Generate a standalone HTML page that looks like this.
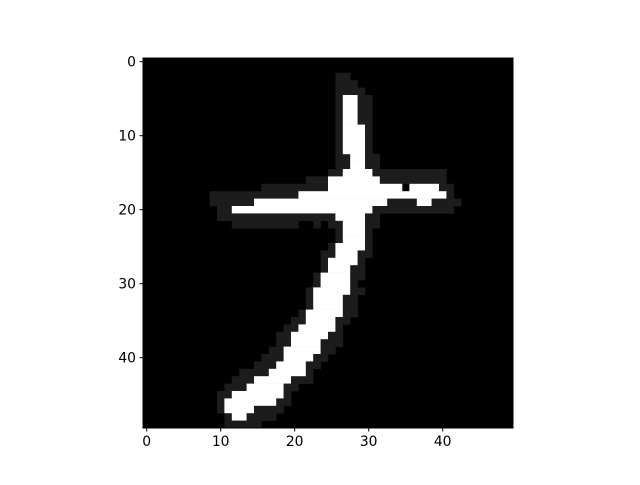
<!DOCTYPE html>
<html><head><meta charset="utf-8"><style>
body{margin:0;background:#fff;}
svg text{font-family:"DejaVu Sans","Liberation Sans",sans-serif;font-size:13.9px;fill:#000;}
</style></head><body>
<svg id="chart" width="640" height="480" xmlns="http://www.w3.org/2000/svg">
<rect x="143" y="58" width="370" height="370" fill="#000"/>
<g id="cells"></g>
<rect x="143" y="58" width="370" height="370" fill="none" stroke="#000" stroke-width="1"/>
<g id="xticks"></g>
<g id="yticks"></g>
</svg>
<script>
const gridSize = 50;
const xTickValues = [0,10,20,30,40];
const yTickValues = [0,10,20,30,40];
const G = 0.11;
// spans: [row, colStart, colEnd(inclusive), intensity]
const spans = [
[2,26,27,G],[3,26,28,G],[4,26,29,G],
[5,26,26,G],[5,27,28,1],[5,29,30,G],
[6,26,26,G],[6,27,28,1],[6,29,30,G],
[7,26,26,G],[7,27,28,1],[7,29,30,G],
[8,26,26,G],[8,27,28,1],[8,29,30,G],
[9,26,26,G],[9,27,29,1],[9,30,30,G],
[10,26,26,G],[10,27,29,1],[10,30,30,G],
[11,26,26,G],[11,27,29,1],[11,30,30,G],
[12,26,26,G],[12,27,29,1],[12,30,30,G],
[13,26,27,G],[13,28,29,1],[13,30,31,G],
[14,26,27,G],[14,28,29,1],[14,30,31,G],
[15,25,26,G],[15,27,30,1],[15,31,40,G],
[16,22,24,G],[16,25,31,1],[16,32,40,G],
[17,16,24,G],[17,25,34,1],[17,36,39,1],[17,40,41,G],
[18,9,20,G],[18,21,40,1],[18,41,41,G],
[19,9,14,G],[19,15,32,1],[19,33,36,G],[19,37,38,1],[19,39,42,G],
[20,10,11,G],[20,12,30,1],[20,31,41,G],
[21,10,25,G],[21,26,29,1],[21,30,31,G],
[22,12,20,G],[22,23,23,G],[22,25,26,G],[22,27,29,1],[22,30,31,G],
[23,26,26,G],[23,27,29,1],[23,30,30,G],
[24,26,26,G],[24,27,29,1],[24,30,30,G],
[25,25,25,G],[25,26,29,1],[25,30,30,G],
[26,24,25,G],[26,26,28,1],[26,29,30,G],
[27,24,24,G],[27,25,28,1],[27,29,29,G],
[28,24,24,G],[28,25,27,1],[28,28,29,G],
[29,23,23,G],[29,24,27,1],[29,28,29,G],
[30,23,23,G],[30,24,27,1],[30,28,28,G],
[31,22,22,G],[31,23,27,1],[31,28,29,G],
[32,22,22,G],[32,23,26,1],[32,27,28,G],
[33,22,22,G],[33,23,26,1],[33,27,28,G],
[34,21,21,G],[34,22,26,1],[34,27,28,G],
[35,20,21,G],[35,22,25,1],[35,26,27,G],
[36,19,20,G],[36,21,25,1],[36,26,26,G],
[37,18,19,G],[37,20,24,1],[37,25,26,G],
[38,18,19,G],[38,20,23,1],[38,24,26,G],
[39,17,18,G],[39,19,23,1],[39,24,25,G],
[40,16,18,G],[40,19,22,1],[40,23,24,G],
[41,15,17,G],[41,18,21,1],[41,22,23,G],
[42,13,16,G],[42,17,21,1],[42,22,22,G],
[43,12,14,G],[43,15,19,1],[43,20,22,G],
[44,11,13,G],[44,14,18,1],[44,19,20,G],
[45,10,11,G],[45,12,18,1],[45,19,19,G],
[46,10,10,G],[46,11,17,1],[46,18,19,G],
[47,10,10,G],[47,11,14,1],[47,15,18,G],
[48,11,11,G],[48,12,13,1],[48,14,17,G],
[49,11,15,G]
];
const x0=143,y0=58,size=370,cell=size/gridSize;
const xs=c=>x0+c*cell, ys=r=>y0+r*cell;
const NS="http://www.w3.org/2000/svg";
const cg=document.getElementById('cells');
spans.forEach(s=>{
  const r=document.createElementNS(NS,'rect');
  
  
  r.setAttribute('x',xs(s[1]));r.setAttribute('y',ys(s[0]));
  r.setAttribute('width',(s[2]-s[1]+1)*cell+0.3);r.setAttribute('height',cell+0.3);
  const v=Math.round(s[3]*255);
  r.setAttribute('fill',`rgb(${v},${v},${v})`);
  cg.appendChild(r);
});
const xg=document.getElementById('xticks'),yg=document.getElementById('yticks');
xTickValues.forEach(t=>{
  const x=xs(t+0.5);
  const l=document.createElementNS(NS,'line');
  
  
  l.setAttribute('x1',x);l.setAttribute('x2',x);l.setAttribute('y1',428);l.setAttribute('y2',431.5);l.setAttribute('stroke','#000');
  xg.appendChild(l);
  const tx=document.createElementNS(NS,'text');
  
  
  tx.setAttribute('x',x);tx.setAttribute('y',446);tx.setAttribute('text-anchor','middle');tx.textContent=t;
  xg.appendChild(tx);
});
yTickValues.forEach(t=>{
  const y=ys(t+0.5);
  const l=document.createElementNS(NS,'line');
  
  
  l.setAttribute('x1',139.5);l.setAttribute('x2',143);l.setAttribute('y1',y);l.setAttribute('y2',y);l.setAttribute('stroke','#000');
  yg.appendChild(l);
  const tx=document.createElementNS(NS,'text');
  
  
  tx.setAttribute('x',136);tx.setAttribute('y',y+5);tx.setAttribute('text-anchor','end');tx.textContent=t;
  yg.appendChild(tx);
});
</script>
</body></html>
